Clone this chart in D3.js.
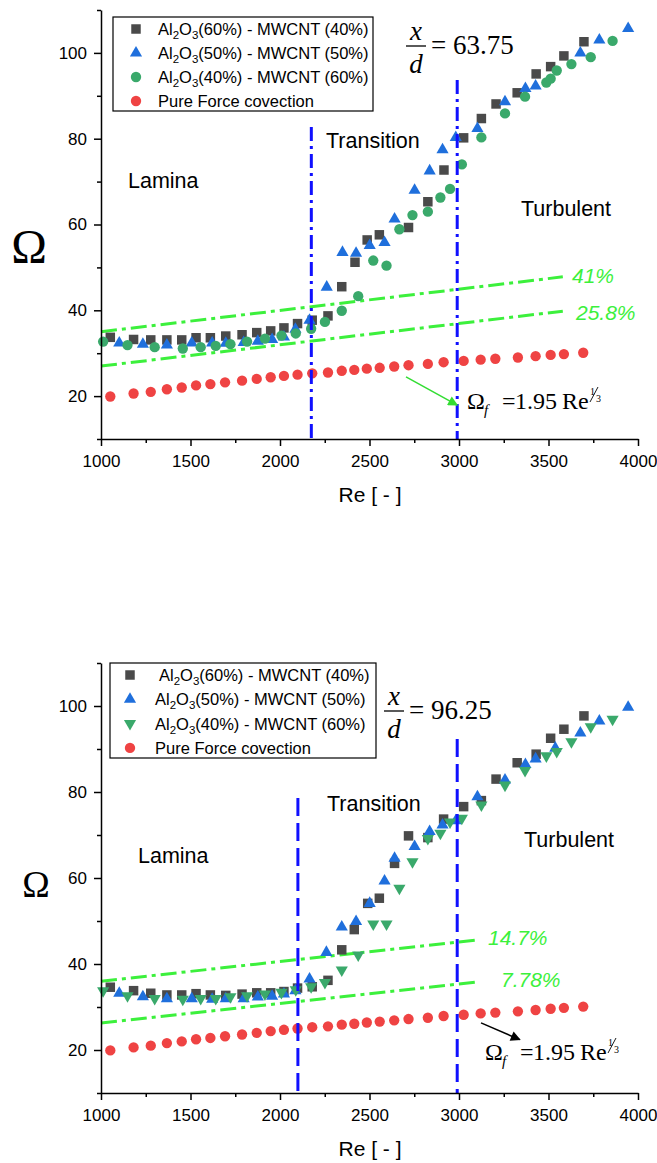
<!DOCTYPE html>
<html><head><meta charset="utf-8">
<script src="https://cdn.jsdelivr.net/npm/d3@7"></script>
<style>body{margin:0;background:#fff}svg{display:block}</style>
</head><body>
<svg id="c" width="657" height="1163"></svg>
<script>
// ---------- DATA ----------
const xTicks = [1000, 1500, 2000, 2500, 3000, 3500, 4000];
const yTicks = [20, 40, 60, 80, 100];
const seriesNames = ["(60%) - MWCNT (40%)", "(50%) - MWCNT (50%)", "(40%) - MWCNT (60%)"];
const pureName = "Pure Force covection";

// pure forced convection (same in both panels)
const pureRe = [1052,1182,1278,1368,1451,1531,1611,1693,1788,1870,1948,2022,2098,2180,2268,2345,2415,2485,2557,2638,2718,2826,2914,3026,3121,3203,3329,3428,3512,3586,3694];
const pureOm = [19.9,20.6,21.0,21.6,22.0,22.5,22.8,23.2,23.6,24.0,24.4,24.7,25.0,25.3,25.5,25.9,26.1,26.4,26.6,26.9,27.2,27.5,27.9,28.2,28.5,28.7,29.0,29.3,29.6,29.8,30.1];

// top panel, x/d = 63.75
const topSqRe = [1052,1182,1278,1368,1451,1531,1611,1697,1788,1870,1948,2022,2098,2180,2268,2345,2419,2487,2555,2718,2826,2916,3026,3125,3207,3325,3431,3512,3586,3698];
const topSqOm = [33.7,33.2,33.1,33.1,33.1,33.6,33.6,34.0,34.3,34.8,35.2,35.9,36.9,37.7,38.7,45.5,51.2,56.4,57.6,59.3,65.3,72.7,80.2,84.7,88.1,90.7,95.1,96.8,99.3,102.6];
const topTriRe = [1102,1234,1368,1507,1621,1697,1797,1876,1956,2022,2086,2165,2261,2349,2425,2501,2584,2640,2752,2836,2908,2982,3103,3257,3371,3428,3678,3784,3945];
const topTriOm = [32.4,32.1,31.9,32.4,32.4,32.3,32.5,32.8,33.2,33.8,35.6,37.7,45.4,53.5,53.3,55.1,55.8,61.3,68.0,72.5,77.4,80.3,82.4,88.6,91.7,92.3,100.0,103.0,105.7];
const topCircRe = [1012,1148,1300,1457,1557,1641,1723,1816,1916,2008,2088,2174,2251,2345,2437,2521,2595,2667,2740,2826,2896,2950,3016,3125,3257,3369,3488,3512,3546,3628,3736,3858];
const topCircOm = [32.7,31.9,31.4,31.1,31.4,31.7,32.1,32.7,33.4,34.1,34.6,35.7,37.3,39.9,43.3,51.6,50.4,58.9,62.2,63.0,66.3,68.3,74.0,80.3,85.9,89.8,93.1,94.0,95.9,97.4,99.0,102.8];

// bottom panel, x/d = 96.25
const botSqRe = [1052,1182,1278,1368,1451,1531,1611,1697,1788,1870,1948,2022,2098,2180,2268,2345,2415,2490,2555,2640,2718,2826,2914,3026,3125,3207,3325,3431,3512,3586,3698];
const botSqOm = [34.6,33.8,33.2,32.8,32.8,33.1,32.8,32.7,33.0,33.3,33.3,33.6,34.4,34.7,36.2,43.3,48.0,54.1,55.3,63.4,69.8,69.4,73.7,76.6,78.0,83.0,86.8,88.8,92.5,94.6,97.7];
const botTriRe = [1102,1234,1368,1507,1621,1697,1797,1876,1956,2022,2086,2165,2259,2345,2425,2501,2584,2640,2752,2836,2908,2982,3103,3257,3371,3428,3538,3678,3784,3945];
const botTriOm = [33.2,32.4,31.9,31.9,31.8,31.9,31.9,32.3,32.5,33.0,33.8,36.5,42.7,48.6,49.9,54.1,59.3,64.6,67.3,70.8,72.3,73.3,78.9,82.8,86.4,87.7,90.2,93.7,96.5,99.7];
const botDnRe = [1012,1148,1300,1457,1557,1641,1723,1816,1916,2008,2088,2174,2251,2345,2437,2521,2595,2667,2740,2826,2896,2950,3016,3125,3257,3369,3488,3546,3628,3736,3858];
const botDnOm = [33.8,32.6,32.0,31.8,32.0,32.0,32.4,32.6,33.0,33.4,34.0,34.7,35.7,38.6,42.1,49.3,49.3,57.6,63.8,69.2,70.4,73.0,73.9,77.0,81.6,85.0,88.4,89.4,91.7,95.2,96.9];

// enhancement reference lines (endpoints)
const topRefRe = [1000, 3580];
const topRefHigh = [35.0, 47.8];
const topRefLow = [27.0, 39.8];
const topRefLabels = ["41%", "25.8%"];
const botRefRe = [1000, 3100];
const botRefHigh = [36.0, 45.6];
const botRefLow = [26.3, 35.8];
const botRefLabels = ["14.7%", "7.78%"];

// regime boundaries: Re, top of line (Omega)
const topBoundRe = [2175, 2990];
const topBoundTop = [82.7, 93.7];
const botBoundRe = [2100, 2990];
const botBoundTop = [78.6, 92.3];

// arrows to the correlation label: [Re0, Om0, Re1, Om1]
const topArrow = [2704, 24.5, 2990, 17.9];
const botArrow = [3123, 26.3, 3340, 22.4];

const xdValues = ["63.75", "96.25"];
const regimeLabels = ["Lamina", "Transition", "Turbulent"];

// ---------- DRAW ----------
const SANS = "'Liberation Sans', Arial, sans-serif";
const SERIF = "'Liberation Serif', 'Times New Roman', serif";
const C = {sq: "#4a4a4a", tri: "#1f6fdc", circ: "#3aa96b", red: "#ef4343", green: "#3cf03c", blue: "#1010ff"};
const svg = d3.select("#c");
const defs = svg.append("defs");
function marker(id, color) {
  defs.append("marker").attr("id", id).attr("viewBox", "0 0 10 10").attr("refX", 9).attr("refY", 5)
    .attr("markerWidth", 14).attr("markerHeight", 10).attr("markerUnits", "userSpaceOnUse").attr("orient", "auto")
    .append("path").attr("d", "M0,0 L10,5 L0,10 z").attr("fill", color);
}
marker("ag", "#33dd33");
marker("ak", "#000");

const sym = {
  sq: d3.symbol().type(d3.symbolSquare).size(90)(),
  tri: d3.symbol().type(d3.symbolTriangle).size(64)(),
  circ: d3.symbol().type(d3.symbolCircle).size(84)()
};

function zip(a, b) { return a.map((v, i) => [v, b[i]]); }

function panel(cfg) {
  const x = d3.scaleLinear().domain([1000, 4000]).range([101, 638]);
  const y = d3.scaleLinear().domain([10, 110]).range(cfg.yr);
  const g = svg.append("g");

  [cfg.refHigh, cfg.refLow].forEach(arr => {
    g.append("path").attr("d", d3.line().x(d => x(d[0])).y(d => y(d[1]))(zip(cfg.refRe, arr)))
      .attr("stroke", C.green).attr("stroke-width", 3).attr("fill", "none")
      .attr("stroke-dasharray", "16,5,4,5");
  });

  const series = [
    {re: cfg.sqRe, om: cfg.sqOm, s: sym.sq, c: C.sq, rot: 0},
    {re: cfg.triRe, om: cfg.triOm, s: sym.tri, c: C.tri, rot: 0},
    {re: cfg.gRe, om: cfg.gOm, s: cfg.gDown ? sym.tri : sym.circ, c: C.circ, rot: cfg.gDown ? 180 : 0},
    {re: pureRe, om: pureOm, s: sym.circ, c: C.red, rot: 0}
  ];
  series.forEach(sr => {
    g.append("g").selectAll("path").data(zip(sr.re, sr.om)).join("path")
      .attr("d", sr.s).attr("fill", sr.c)
      .attr("transform", d => `translate(${x(d[0])},${y(d[1])}) rotate(${sr.rot})`);
  });

  cfg.boundRe.forEach((r, i) => {
    g.append("line").attr("x1", x(r)).attr("x2", x(r)).attr("y1", y(cfg.boundTop[i])).attr("y2", y(10))
      .attr("stroke", C.blue).attr("stroke-width", 3).attr("stroke-dasharray", cfg.boundDash);
  });

  const xa = g.append("g").attr("transform", `translate(0,${y(10)})`)
    .call(d3.axisBottom(x).tickValues(xTicks).tickSize(7).tickPadding(9).tickSizeOuter(0).tickFormat(d3.format("d")));
  const xm = g.append("g").attr("transform", `translate(0,${y(10)})`)
    .call(d3.axisBottom(x).tickValues(d3.range(1250, 4000, 500)).tickSize(4).tickSizeOuter(0).tickFormat(""));
  const ya = g.append("g").attr("transform", `translate(101,0)`)
    .call(d3.axisLeft(y).tickValues(yTicks).tickSize(7).tickPadding(7).tickSizeOuter(0).tickFormat(d3.format("d")));
  const ym = g.append("g").attr("transform", `translate(101,0)`)
    .call(d3.axisLeft(y).tickValues([10, 30, 50, 70, 90, 110]).tickSize(4).tickSizeOuter(0).tickFormat(""));
  [xa, xm, ya, ym].forEach(a => {
    a.selectAll("path,line").attr("stroke", "#000").attr("stroke-width", 1.5);
    a.selectAll("text").attr("font-family", SANS).attr("font-size", 17).attr("fill", "#000");
  });
  xm.select(".domain").remove(); ym.select(".domain").remove();

  g.append("text").attr("x", 370).attr("y", y(10) + 63).attr("text-anchor", "middle")
    .attr("font-family", SANS).attr("font-size", 21).text("Re [ - ]");
  g.append("text").attr("x", cfg.omX).attr("y", cfg.omY).attr("text-anchor", "middle")
    .attr("font-family", SERIF).attr("font-size", cfg.omSize).text("Ω");

  cfg.regPos.forEach((p, i) => {
    g.append("text").attr("x", p[0]).attr("y", p[1]).attr("font-family", SANS).attr("font-size", 21.5).text(regimeLabels[i]);
  });

  cfg.pctPos.forEach((p, i) => {
    g.append("text").attr("x", p[0]).attr("y", p[1]).attr("font-family", SANS).attr("font-size", 21)
      .attr("font-style", "italic").attr("fill", C.green).text(cfg.refLabels[i]);
  });

  const f = cfg.xd;
  g.append("text").attr("x", f.cx).attr("y", f.by - 6).attr("text-anchor", "middle").attr("font-family", SERIF)
    .attr("font-style", "italic").attr("font-size", 27).text("x");
  g.append("line").attr("x1", f.cx - 10).attr("x2", f.cx + 10).attr("y1", f.by).attr("y2", f.by).attr("stroke", "#000").attr("stroke-width", 1.3);
  g.append("text").attr("x", f.cx).attr("y", f.by + 27).attr("text-anchor", "middle").attr("font-family", SERIF)
    .attr("font-style", "italic").attr("font-size", 27).text("d");
  g.append("text").attr("x", f.cx + 15).attr("y", f.by + 8).attr("font-family", SERIF).attr("font-size", 27)
    .text("= " + cfg.xdVal);

  g.append("line").attr("x1", x(cfg.arrow[0])).attr("y1", y(cfg.arrow[1])).attr("x2", x(cfg.arrow[2])).attr("y2", y(cfg.arrow[3]))
    .attr("stroke", cfg.arrowColor).attr("stroke-width", 1.5).attr("marker-end", `url(#${cfg.arrowId})`);

  const fx = cfg.form[0], fy = cfg.form[1];
  const ft = g.append("text").attr("x", fx).attr("y", fy).attr("font-family", SERIF).attr("font-size", 24);
  ft.append("tspan").text("Ω");
  ft.append("tspan").attr("x", fx + 17).attr("dy", 6).attr("font-size", 15).attr("font-style", "italic").text("f");
  ft.append("tspan").attr("x", fx + 35).attr("dy", -6).text("=");
  ft.append("tspan").attr("x", fx + 48).text("1.95");
  ft.append("tspan").attr("x", fx + 95).text("Re");
  const fr = g.append("g").attr("transform", `translate(${fx + 121},${fy - 10})`);
  fr.append("text").attr("x", 2).attr("y", -4).attr("font-family", SERIF).attr("font-size", 10).text("1");
  fr.append("line").attr("x1", 2).attr("y1", 3).attr("x2", 10).attr("y2", -12).attr("stroke", "#000").attr("stroke-width", 0.9);
  fr.append("text").attr("x", 8).attr("y", 3).attr("font-family", SERIF).attr("font-size", 10).text("3");

  const L = cfg.leg;
  g.append("rect").attr("x", L.x).attr("y", L.y).attr("width", L.w).attr("height", L.h)
    .attr("fill", "#fff").attr("stroke", "#000").attr("stroke-width", 1.2);
  const legSyms = [
    {s: sym.sq, c: C.sq, rot: 0}, {s: sym.tri, c: C.tri, rot: 0},
    {s: cfg.gDown ? sym.tri : sym.circ, c: C.circ, rot: cfg.gDown ? 180 : 0}, {s: sym.circ, c: C.red, rot: 0}
  ];
  legSyms.forEach((ls, i) => {
    const ry = L.y + L.row0 + i * L.dy;
    g.append("path").attr("d", ls.s).attr("fill", ls.c).attr("transform", `translate(${L.sx},${ry}) rotate(${ls.rot})`);
    const t = g.append("text").attr("x", L.tx[i]).attr("y", ry + 6).attr("font-family", SANS).attr("font-size", 16.5);
    if (i < 3) {
      t.append("tspan").text("Al");
      t.append("tspan").attr("dy", 4).attr("font-size", 11.5).text("2");
      t.append("tspan").attr("dy", -4).text("O");
      t.append("tspan").attr("dy", 4).attr("font-size", 11.5).text("3");
      t.append("tspan").attr("dy", -4).text(seriesNames[i]);
    } else {
      t.text(pureName);
    }
  });
}

panel({
  yr: [439, 10],
  sqRe: topSqRe, sqOm: topSqOm, triRe: topTriRe, triOm: topTriOm, gRe: topCircRe, gOm: topCircOm, gDown: false,
  refRe: topRefRe, refHigh: topRefHigh, refLow: topRefLow, refLabels: topRefLabels,
  boundRe: topBoundRe, boundTop: topBoundTop, boundDash: "14,5,3,5",
  omX: 29, omY: 263, omSize: 48,
  regPos: [[128, 188], [326, 148], [521, 216]],
  pctPos: [[572, 283], [576, 320]],
  xd: {cx: 416, by: 46}, xdVal: xdValues[0],
  arrow: topArrow, arrowColor: "#33dd33", arrowId: "ag",
  form: [467, 409],
  leg: {x: 113, y: 17, w: 260, h: 94, row0: 12, dy: 24, sx: 136, tx: [158, 158, 158, 158]}
});

panel({
  yr: [1093, 663],
  sqRe: botSqRe, sqOm: botSqOm, triRe: botTriRe, triOm: botTriOm, gRe: botDnRe, gOm: botDnOm, gDown: true,
  refRe: botRefRe, refHigh: botRefHigh, refLow: botRefLow, refLabels: botRefLabels,
  boundRe: botBoundRe, boundTop: botBoundTop, boundDash: "18,7",
  omX: 36, omY: 897, omSize: 37,
  regPos: [[138, 863], [327, 811], [524, 847]],
  pctPos: [[488, 945], [501, 987]],
  xd: {cx: 394, by: 711}, xdVal: xdValues[1],
  arrow: botArrow, arrowColor: "#000", arrowId: "ak",
  form: [485, 1060],
  leg: {x: 110, y: 663, w: 266, h: 95, row0: 12, dy: 24.3, sx: 130, tx: [159, 155, 155, 155]}
});
</script>
</body></html>
